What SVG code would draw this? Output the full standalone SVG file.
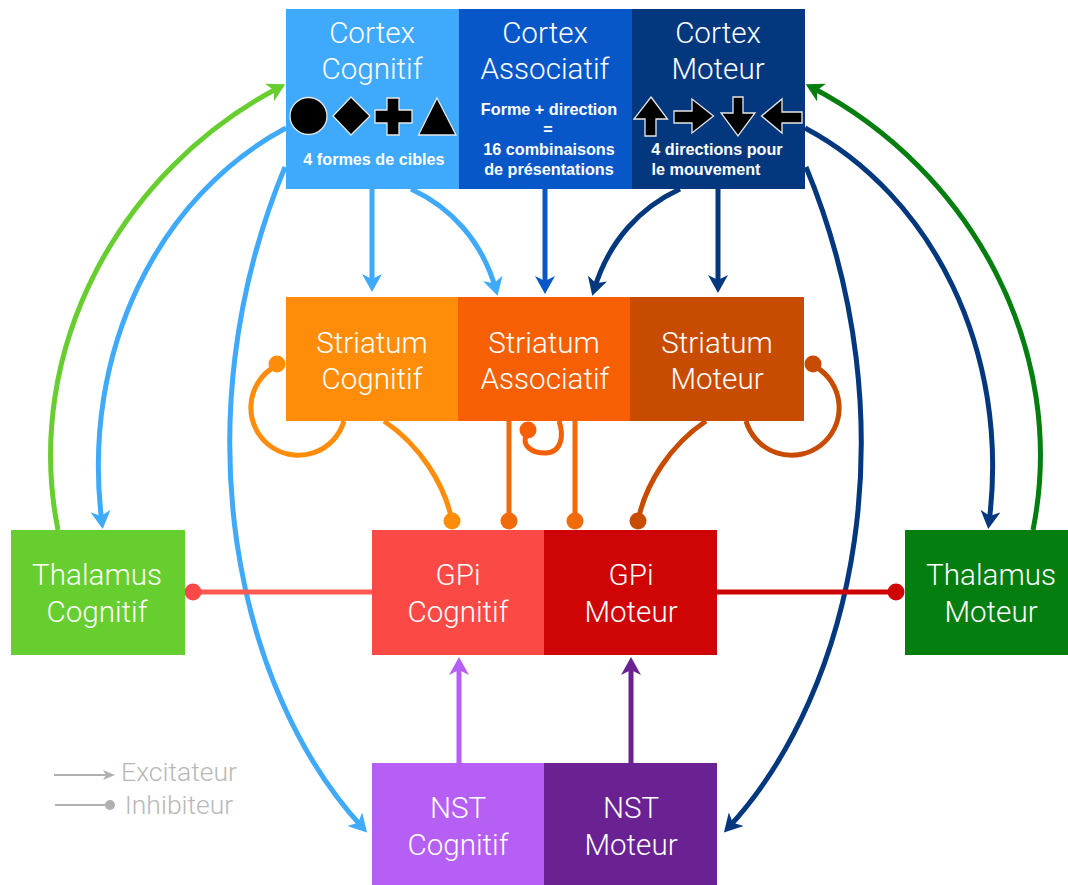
<svg xmlns="http://www.w3.org/2000/svg" width="1068" height="885" viewBox="0 0 1068 885">
<style>
text{font-family:"Roboto","Liberation Sans",sans-serif;text-anchor:middle}
.t{font-size:29.6px;font-weight:300;fill:#fff}
.s{font-size:16.2px;font-weight:700;fill:#fff;font-family:"Liberation Sans",Arial,sans-serif}
.l{font-size:26.5px;font-weight:300;fill:#b8b8b8}
.c{fill:none;stroke-width:5}
.g{fill:#000;stroke:#e8e8e8;stroke-width:1.3}
</style>
<defs>
<marker id="aCC" markerUnits="userSpaceOnUse" markerWidth="20" markerHeight="20" refX="12" refY="10" orient="auto" viewBox="0 0 20 20"><path d="M0 0L18 10L0 20L5 10Z" fill="#3fa9fc"/></marker>
<marker id="aCA" markerUnits="userSpaceOnUse" markerWidth="20" markerHeight="20" refX="12" refY="10" orient="auto" viewBox="0 0 20 20"><path d="M0 0L18 10L0 20L5 10Z" fill="#0757c9"/></marker>
<marker id="aCM" markerUnits="userSpaceOnUse" markerWidth="20" markerHeight="20" refX="12" refY="10" orient="auto" viewBox="0 0 20 20"><path d="M0 0L18 10L0 20L5 10Z" fill="#03387f"/></marker>
<marker id="aTC" markerUnits="userSpaceOnUse" markerWidth="20" markerHeight="20" refX="12" refY="10" orient="auto" viewBox="0 0 20 20"><path d="M0 0L18 10L0 20L5 10Z" fill="#66ce2e"/></marker>
<marker id="aTM" markerUnits="userSpaceOnUse" markerWidth="20" markerHeight="20" refX="12" refY="10" orient="auto" viewBox="0 0 20 20"><path d="M0 0L18 10L0 20L5 10Z" fill="#057e10"/></marker>
<marker id="aNC" markerUnits="userSpaceOnUse" markerWidth="20" markerHeight="20" refX="12" refY="10" orient="auto" viewBox="0 0 20 20"><path d="M0 0L18 10L0 20L5 10Z" fill="#b65ff5"/></marker>
<marker id="aNM" markerUnits="userSpaceOnUse" markerWidth="20" markerHeight="20" refX="12" refY="10" orient="auto" viewBox="0 0 20 20"><path d="M0 0L18 10L0 20L5 10Z" fill="#6a2192"/></marker>
</defs>
<g id="connectors">
<path class="c" stroke="#66ce2e" d="M58 530C22 350 120 170 280 87" marker-end="url(#aTC)"/>
<path class="c" stroke="#3fa9fc" d="M286 128C160 195 80 350 102 523" marker-end="url(#aCC)"/>
<path class="c" stroke="#3fa9fc" d="M285 167C180 420 235 690 363 828" marker-end="url(#aCC)"/>
<path class="c" stroke="#057e10" d="M1033 530C1069 350 971 170 811 87" marker-end="url(#aTM)"/>
<path class="c" stroke="#03387f" d="M805 128C931 195 1011 350 989 523" marker-end="url(#aCM)"/>
<path class="c" stroke="#03387f" d="M806 167C911 420 856 690 728 828" marker-end="url(#aCM)"/>
<path class="c" stroke="#3fa9fc" d="M372 189V286" marker-end="url(#aCC)"/>
<path class="c" stroke="#3fa9fc" d="M411 189C450 207 482 240 496 290" marker-end="url(#aCC)"/>
<path class="c" stroke="#0757c9" d="M545 189V288" marker-end="url(#aCA)"/>
<path class="c" stroke="#03387f" d="M680 189C641 207 609 240 594 290" marker-end="url(#aCM)"/>
<path class="c" stroke="#03387f" d="M718 189V287" marker-end="url(#aCM)"/>
<path class="c" stroke="#ff8d0a" d="M274 367A47.500 47.500 0 1 0 344 421"/>
<circle cx="277" cy="364" r="8.5" fill="#ff8d0a"/>
<path class="c" stroke="#c84b02" d="M816 367A47.500 47.500 0 1 1 746 421"/>
<circle cx="813" cy="364" r="8.5" fill="#c84b02"/>
<path class="c" stroke="#f65f03" d="M526 436C522 446 532 453 545 453C562 453 564 435 559 421"/>
<circle cx="528" cy="430" r="8.5" fill="#f65f03"/>
<path class="c" stroke="#ff8d0a" d="M384 421C420 445 445 485 452 521"/>
<circle cx="452" cy="521" r="8.5" fill="#ff8d0a"/>
<path class="c" stroke="#f16b0c" d="M509 421V521"/>
<circle cx="509" cy="521" r="8.5" fill="#f16b0c"/>
<path class="c" stroke="#f16b0c" d="M575 421V521"/>
<circle cx="575" cy="521" r="8.5" fill="#f16b0c"/>
<path class="c" stroke="#c84b02" d="M706 421C670 445 645 485 638 521"/>
<circle cx="638" cy="521" r="8.5" fill="#c84b02"/>
<path class="c" stroke="#fb5a52" d="M372 592H193"/>
<circle cx="193" cy="592" r="8.5" fill="#fb4a46"/>
<path class="c" stroke="#cf0404" d="M717 592H896"/>
<circle cx="896" cy="592" r="8.5" fill="#cf0404"/>
<path class="c" stroke="#b65ff5" d="M459 763V663" marker-end="url(#aNC)"/>
<path class="c" stroke="#6a2192" d="M631 763V663" marker-end="url(#aNM)"/>
</g>
<g id="cortex-cognitif"><rect x="286" y="9" width="173" height="180" fill="#3fa9fc"/>
<text class="t" x="372" y="43">Cortex</text><text class="t" x="372" y="79">Cognitif</text>
<circle class="g" cx="308.5" cy="116" r="18.5"/><path class="g" d="M351 97L370 116L351 135L333 116Z"/>
<path class="g" d="M387 98H399V110H412V123H399V135H387V123H375V110H387Z"/><path class="g" d="M437 98L456 135H418.500Z"/>
<text class="s" x="374" y="165">4 formes de cibles</text></g>
<g id="cortex-associatif"><rect x="459" y="9" width="173" height="180" fill="#0757c9"/>
<text class="t" x="545" y="43">Cortex</text><text class="t" x="545" y="79">Associatif</text>
<text class="s" x="549" y="115">Forme + direction</text><text class="s" x="548" y="135">=</text><text class="s" x="549" y="155">16 combinaisons</text><text class="s" x="549" y="175">de présentations</text></g>
<g id="cortex-moteur"><rect x="632" y="9" width="173" height="180" fill="#03387f"/>
<text class="t" x="718" y="43">Cortex</text><text class="t" x="718" y="79">Moteur</text>
<path class="g" d="M651 97L667.500 119H656V136H645V119H634Z"/><path class="g" d="M674 111H692V99L713.500 116L692 133V123H674Z"/>
<path class="g" d="M733 97H743V113H755L738 136L721 113H733Z"/><path class="g" d="M802 112H782V99L761.500 116L782 133V123H802Z"/>
<text class="s" x="717" y="155">4 directions pour</text><text class="s" x="706" y="175">le mouvement</text></g>
<g id="striatum-cognitif"><rect x="286" y="297" width="172" height="124" fill="#ff8d0a"/><text class="t" x="372" y="353">Striatum</text><text class="t" x="372" y="389">Cognitif</text></g>
<g id="striatum-associatif"><rect x="458" y="297" width="172" height="124" fill="#f65f03"/><text class="t" x="544" y="353">Striatum</text><text class="t" x="545" y="389">Associatif</text></g>
<g id="striatum-moteur"><rect x="630" y="297" width="174" height="124" fill="#c84b02"/><text class="t" x="717" y="353">Striatum</text><text class="t" x="717" y="389">Moteur</text></g>
<g id="thalamus-cognitif"><rect x="11" y="530" width="174" height="125" fill="#66ce2e"/><text class="t" x="97" y="585">Thalamus</text><text class="t" x="97" y="622">Cognitif</text></g>
<g id="gpi-cognitif"><rect x="372" y="530" width="172" height="125" fill="#fb4a46"/><text class="t" x="458" y="585">GPi</text><text class="t" x="458" y="622">Cognitif</text></g>
<g id="gpi-moteur"><rect x="544" y="530" width="173" height="125" fill="#cf0404"/><text class="t" x="631" y="585">GPi</text><text class="t" x="631" y="622">Moteur</text></g>
<g id="thalamus-moteur"><rect x="905" y="530" width="163" height="125" fill="#057e10"/><text class="t" x="991" y="585">Thalamus</text><text class="t" x="991" y="622">Moteur</text></g>
<g id="nst-cognitif"><rect x="372" y="763" width="172" height="122" fill="#b65ff5"/><text class="t" x="458" y="818">NST</text><text class="t" x="458" y="855">Cognitif</text></g>
<g id="nst-moteur"><rect x="544" y="763" width="173" height="122" fill="#6a2192"/><text class="t" x="631" y="818">NST</text><text class="t" x="631" y="855">Moteur</text></g>
<g id="legend">
<path d="M54 775H108" stroke="#b0b0b0" stroke-width="2.2" fill="none"/><path d="M103 770L115 775L103 780L106 775Z" fill="#b0b0b0"/>
<text class="l" x="179" y="781">Excitateur</text>
<path d="M55 805H108" stroke="#b0b0b0" stroke-width="2.2" fill="none"/><circle cx="110" cy="805" r="5" fill="#b0b0b0"/>
<text class="l" x="179" y="814">Inhibiteur</text>
</g>
</svg>
